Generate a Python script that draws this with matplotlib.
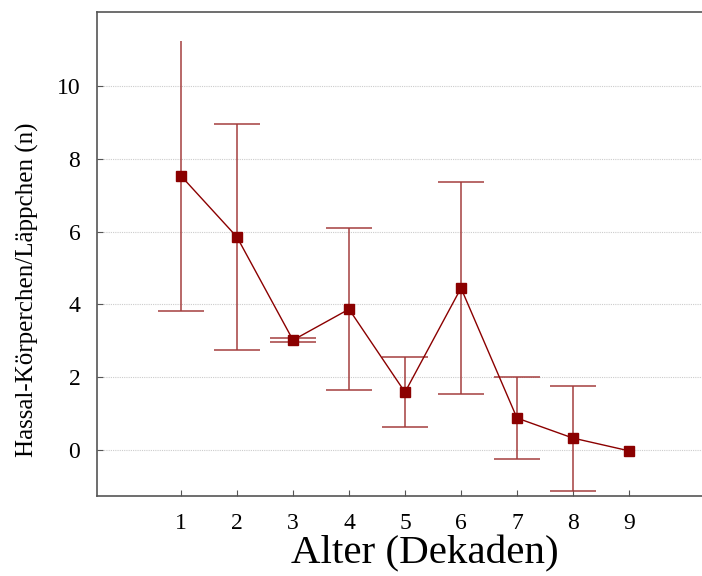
import matplotlib
matplotlib.use("Agg")
import matplotlib.pyplot as plt
import numpy as np

plt.rcParams['font.family'] = ['Liberation Serif', 'DejaVu Serif']

decades = [1, 2, 3, 4, 5, 6, 7, 8, 9]
means = [7.53, 5.85, 3.02, 3.87, 1.59, 4.45, 0.88, 0.33, -0.02]
errors = [3.71, 3.10, 0.05, 2.22, 0.96, 2.92, 1.13, 1.44, 0.0]
y_ticks = [0, 2, 4, 6, 8, 10]

fig = plt.figure(figsize=(7.02, 5.76), dpi=100)
ax = fig.add_axes([97/702, 80/576, (713-97)/702, (496-12)/576])

ax.set_xlim(-0.5, 10.5)
ax.set_ylim(-1.26, 12.03)

ax.set_yticks(y_ticks)
ax.set_xticks(decades)
ax.grid(axis='y', color='#cccccc', linestyle=(0, (1, 1)), linewidth=0.8)
ax.set_axisbelow(True)

# error bars only where an error exists
eb_x = [d for d, e in zip(decades, errors) if e > 0]
eb_y = [m for m, e in zip(means, errors) if e > 0]
eb_e = [e for e in errors if e > 0]
eb = ax.errorbar(eb_x, eb_y, yerr=eb_e, fmt='none', ecolor='#a33a3a',
                 elinewidth=1.2, capsize=16.5, capthick=1.2, alpha=0.9, zorder=2)
# first point's upper error bar has no cap
caplines = eb[1]
if len(caplines) >= 2:
    xs, ys = caplines[1].get_data()
    caplines[1].set_data(np.asarray(xs)[1:], np.asarray(ys)[1:])

ax.plot(decades, means, color='#8b0000', linewidth=1.0, marker='s',
        markersize=7, markerfacecolor='#8b0000', markeredgecolor='#8b0000', zorder=3)

for s in ['left', 'bottom', 'top', 'right']:
    ax.spines[s].set_color('#555555')
    ax.spines[s].set_linewidth(1.2)

ax.tick_params(axis='both', direction='in', length=4, color='#555555',
               labelsize=17)
ax.tick_params(axis='x', pad=12)
ax.tick_params(axis='y', pad=12)

ax.set_xlabel('Alter (Dekaden)', fontsize=29.5)
ax.set_ylabel('Hassal-Körperchen/Läppchen (n)', fontsize=18)
ax.xaxis.set_label_coords((425 - 97) / 616, -(572 - 496) / 484 + 0.0)
ax.xaxis.label.set_va('bottom')
ax.yaxis.set_label_coords((39 - 97) / 616, (496 - 290) / 484)

fig.savefig('out.png', dpi=100)
